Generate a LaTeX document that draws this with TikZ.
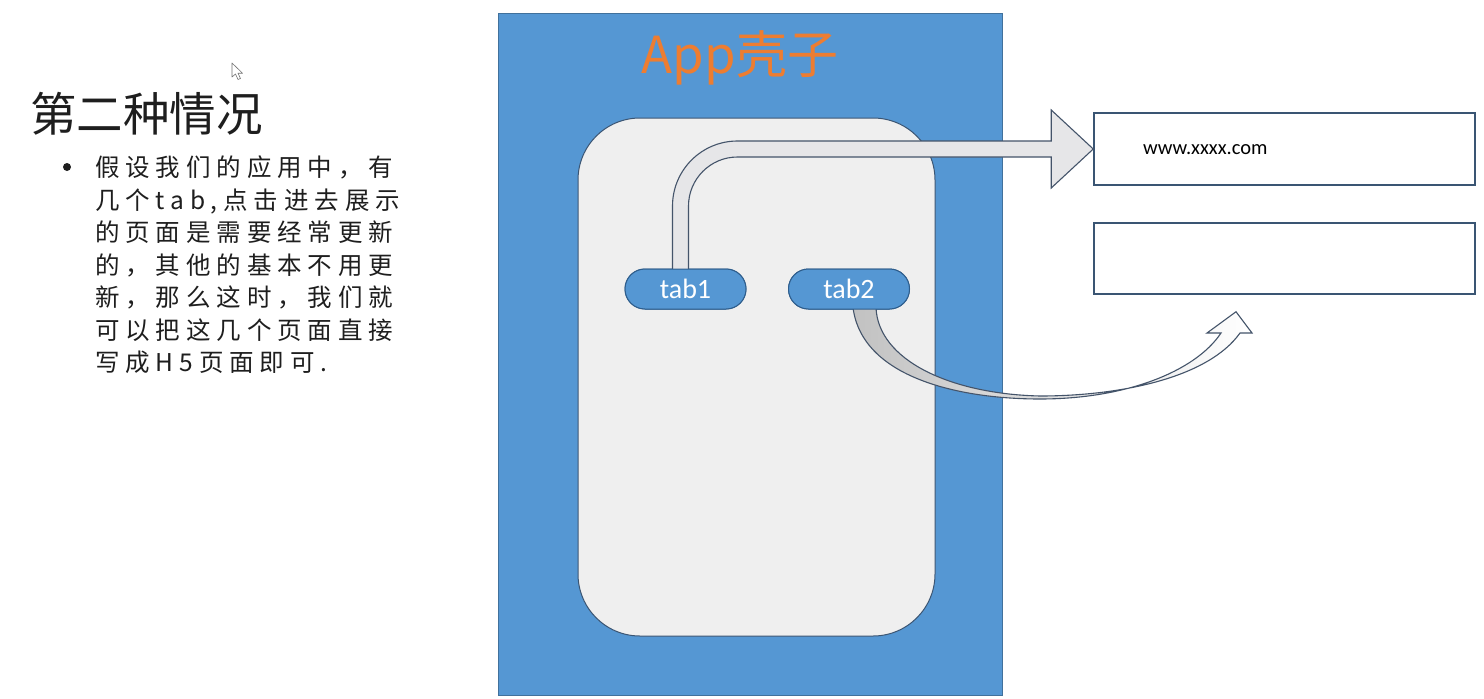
\documentclass[tikz,border=0pt]{standalone}
\usepackage{fontspec}
\usetikzlibrary{calc}
\newfontfamily\cjkfont{Noto Sans CJK SC}
\newfontfamily\cjkspaced[LetterSpace=24]{Noto Sans CJK SC}
\newfontfamily\calfont{Carlito}
\definecolor{shellblue}{HTML}{5597D3}
\definecolor{shellline}{HTML}{41719C}
\definecolor{screenfill}{HTML}{EFEFEF}
\definecolor{darkline}{HTML}{3A5573}
\definecolor{tabline}{HTML}{2E5D8C}
\definecolor{arrowfill}{HTML}{E6E6E8}
\definecolor{arrowline}{HTML}{44546A}
\definecolor{apporange}{HTML}{ED7D31}
\definecolor{textdark}{HTML}{1E1E1E}
\begin{document}
\begin{tikzpicture}[x=1pt,y=-1pt,
  shell/.style={draw=shellline,line width=1pt,fill=shellblue,minimum width=504pt,minimum height=682pt,inner sep=0pt},
  screen/.style={draw=darkline,line width=1pt,fill=screenfill,rounded corners=62pt,minimum width=357pt,minimum height=518pt,inner sep=0pt},
  tabpill/.style={draw=tabline,line width=1pt,fill=shellblue,rounded corners=20pt,minimum width=121pt,minimum height=40pt,inner sep=0pt,text=white,font=\calfont\fontsize{28}{30}\selectfont},
  pagebox/.style={draw=darkline,line width=1.5pt,fill=white,minimum width=381pt,minimum height=72pt,inner sep=0pt},
  blockarrow/.style={draw=arrowline,line width=1.1pt,fill=arrowfill,line join=miter},
  curvearrow/.style={draw=arrowline,line width=1.1pt,left color=black!24,right color=white,line join=miter},
  bodytext/.style={anchor=base west,inner sep=0pt,text=textdark,font=\cjkspaced\fontsize{24.5}{28}\selectfont}
]
\useasboundingbox (0,0) rectangle (1484,699);
\fill[white] (0,0) rectangle (1484,699);

% left text
\node[anchor=base west,inner sep=0pt,text=textdark,font=\cjkfont\fontsize{46.5}{50}\selectfont] (title) at (30,131) {第二种情况};
\node[circle,fill=textdark,inner sep=0pt,minimum size=8pt] (bullet) at (67,167) {};
\foreach \t [count=\i] in {{假设我们的应用中，有},{几个tab,点击进去展示},{的页面是需要经常更新},{的，其他的基本不用更},{新，那么这时，我们就},{可以把这几个页面直接},{写成H5页面即可.}}
  \node[bodytext] (line\i) at (95,{176.5+32.5*(\i-1)}) {\t};

% mouse cursor
\filldraw[draw=black!55,fill=white,line width=0.6pt,line join=round] (232,63) -- (232,77) -- (235.5,74) -- (238,79.5) -- (240.5,78.5) -- (238,73.2) -- (242.5,73.2) -- cycle;

% app shell
\node[shell] (shell) at (750,354) {};
\node[anchor=base,inner sep=0pt,text=apporange,font=\cjkfont\fontsize{51}{55}\selectfont] (applabel) at (740,73) {App壳子};
\node[screen] (screen) at (756.5,377) {};

% tabs and pages (positions)
\node[tabpill] (tab1) at (685.5,289) {tab1};
\node[tabpill] (tab2) at (849,289) {tab2};
\node[pagebox] (page1) at (1284.5,149) {};
\node[pagebox,minimum height=71pt] (page2) at (1284.5,258.5) {};
\node[anchor=base west,inner sep=0pt,font=\calfont\fontsize{20.5}{22}\selectfont] (url) at (1143,154) {www.xxxx.com};

% curved arrow from tab2
\coordinate (c2a) at ($(tab2.south)+(4,-2)$);
\coordinate (c2b) at ($(tab2.south)+(27,-2)$);
\coordinate (c2tip) at ($(page2.south)+(-48.5,17)$);
\path[curvearrow] (c2a) .. controls (862,378) and (960,399) .. (1040,399)
  .. controls (1125,399) and (1195,372) .. (1221,333) -- (1207,333) -- (c2tip) -- (1252,333) -- (1240,333)
  .. controls (1208,378) and (1120,396) .. (1040,396)
  .. controls (950,394) and (878,360) .. (c2b) -- cycle;

% bent arrow from tab1 to page1
\coordinate (sL) at ($(tab1.north)+(-13,2)$);
\coordinate (sR) at ($(tab1.north)+(3,2)$);
\coordinate (hT) at ($(page1.west)+(-42,-8)$);
\coordinate (hB) at ($(page1.west)+(-42,8)$);
\path[blockarrow] (sL) -- ($(sL |- hT)+(0,65)$) arc[start angle=180,end angle=270,radius=65]
  -- (hT) -- ($(hT)+(0,-31)$) -- (page1.west) -- ($(hB)+(0,31)$) -- (hB)
  -- ($(sR |- hB)+(49,0)$) arc[start angle=270,end angle=180,radius=49] -- (sR) -- cycle;

% redraw tabs on top
\node[tabpill] at (tab1) {tab1};
\node[tabpill] at (tab2) {tab2};
\end{tikzpicture}
\end{document}
